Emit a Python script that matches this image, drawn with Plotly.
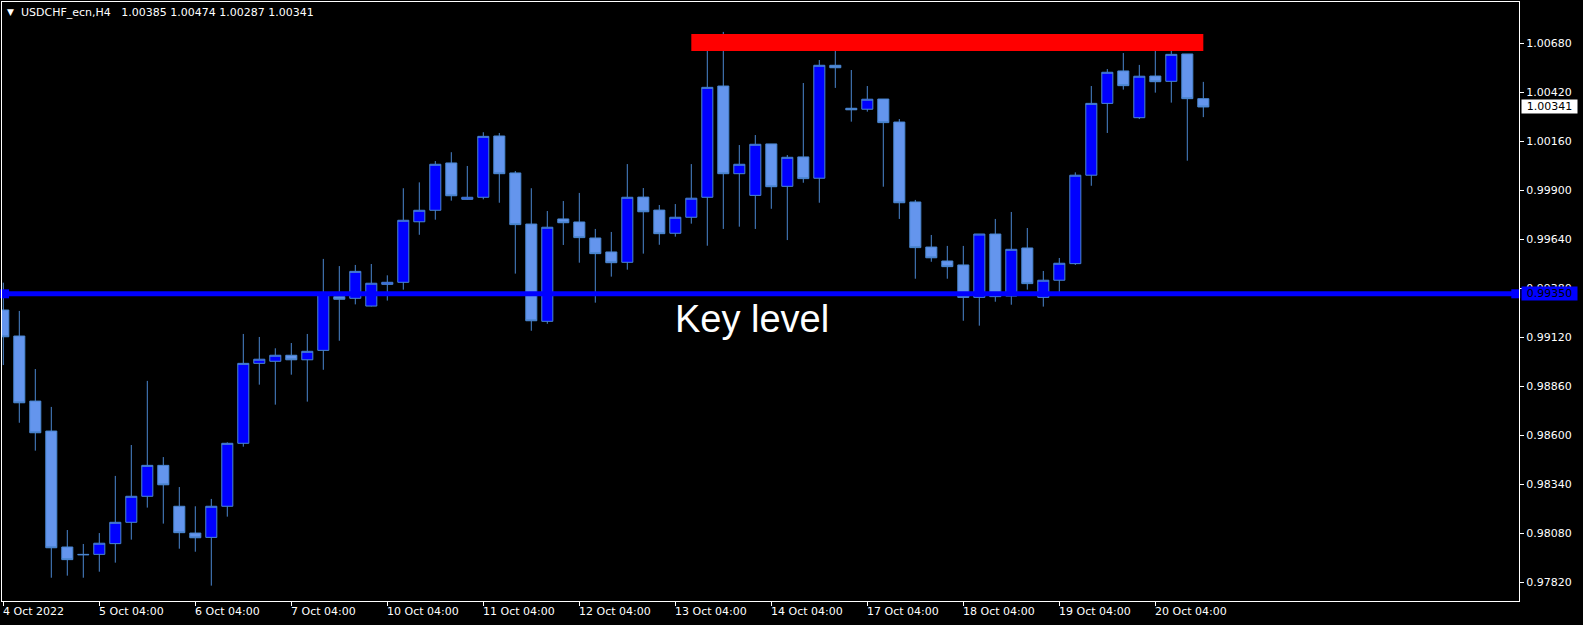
import pandas as pd
import plotly.graph_objects as go

# ---------------- data (USDCHF_ecn, H4) ----------------
opens = [0.99264, 0.99126, 0.98781, 0.98622, 0.98007, 0.97968, 0.97968, 0.98025, 0.98138, 0.98276,
         0.98440, 0.98223, 0.98081, 0.98058, 0.98223, 0.98557, 0.98981, 0.98992, 0.99024, 0.99000,
         0.99050, 0.99335, 0.99326, 0.99285, 0.99400, 0.99411, 0.99732, 0.99793, 1.00044, 0.99851,
         0.99862, 1.00187, 0.99991, 0.99720, 0.99204, 0.99747, 0.99731, 0.99646, 0.99572, 0.99517,
         0.99863, 0.99794, 0.99671, 0.99756, 0.99862, 1.00452, 0.99987, 0.99872, 1.00145, 0.99920,
         1.00076, 0.99963, 1.00562, 1.00334, 1.00329, 1.00383, 1.00261, 0.99837, 0.99598, 0.99524,
         0.99503, 0.99331, 0.99667, 0.99338, 0.99593, 0.99331, 0.99422, 0.99510, 0.99979, 1.00360,
         1.00532, 1.00284, 1.00505, 1.00477, 1.00622, 1.00385]
highs = [0.99409, 0.99259, 0.98951, 0.98750, 0.98097, 0.98023, 0.98081, 0.98384, 0.98548, 0.98888,
         0.98484, 0.98325, 0.98223, 0.98262, 0.98562, 0.99137, 0.99121, 0.99061, 0.99089, 0.99137,
         0.99535, 0.99497, 0.99503, 0.99508, 0.99448, 0.99910, 0.99941, 1.00054, 1.00101, 1.00028,
         1.00207, 1.00203, 1.00001, 0.99910, 0.99789, 0.99842, 0.99885, 0.99694, 0.99678, 1.00038,
         0.99911, 0.99821, 0.99826, 1.00038, 1.00701, 1.00739, 1.00139, 1.00192, 1.00145, 1.00086,
         1.00468, 1.00590, 1.00659, 1.00537, 1.00452, 1.00383, 1.00277, 0.99848, 0.99662, 0.99604,
         0.99604, 0.99667, 0.99747, 0.99784, 0.99699, 0.99471, 0.99540, 0.99994, 1.00452, 1.00542,
         1.00627, 1.00564, 1.00638, 1.00686, 1.00622, 1.00474]
lows = [0.98972, 0.98666, 0.98518, 0.97844, 0.97855, 0.97844, 0.97876, 0.97924, 0.98046, 0.98216,
        0.98131, 0.97998, 0.97982, 0.97802, 0.98168, 0.98539, 0.98868, 0.98762, 0.98921, 0.98778,
        0.98947, 0.99101, 0.99294, 0.99283, 0.99314, 0.99372, 0.99663, 0.99743, 0.99844, 0.99849,
        0.99851, 0.99833, 0.99457, 0.99154, 0.99191, 0.99609, 0.99515, 0.99303, 0.99441, 0.99478,
        0.99563, 0.99610, 0.99653, 0.99722, 0.99605, 0.99694, 0.99706, 0.99694, 0.99801, 0.99635,
        0.99939, 0.99833, 1.00442, 1.00263, 1.00316, 0.99918, 0.99747, 0.99430, 0.99520, 0.99430,
        0.99207, 0.99181, 0.99308, 0.99292, 0.99372, 0.99282, 0.99360, 0.99503, 0.99923, 1.00203,
        1.00433, 1.00277, 1.00417, 1.00364, 1.00056, 1.00287]
closes = [0.99122, 0.98772, 0.98613, 0.98003, 0.97940, 0.97966, 0.98027, 0.98138, 0.98276, 0.98440,
          0.98337, 0.98083, 0.98056, 0.98223, 0.98557, 0.98981, 0.99003, 0.99024, 0.99000, 0.99045,
          0.99354, 0.99321, 0.99469, 0.99406, 0.99411, 0.99740, 0.99793, 1.00037, 0.99870, 0.99862,
          1.00185, 0.99987, 0.99717, 0.99207, 0.99703, 0.99727, 0.99648, 0.99563, 0.99515, 0.99862,
          0.99785, 0.99669, 0.99756, 0.99857, 1.00445, 0.99987, 1.00037, 1.00143, 0.99918, 1.00074,
          0.99961, 1.00562, 1.00549, 1.00326, 1.00382, 1.00258, 0.99833, 0.99595, 0.99541, 0.99494,
          0.99331, 0.99667, 0.99335, 0.99586, 0.99404, 0.99422, 0.99512, 0.99979, 1.00360, 1.00525,
          1.00454, 1.00504, 1.00475, 1.00620, 1.00385, 1.00341]

price_ticks = [0.97820, 0.98080, 0.98340, 0.98600, 0.98860, 0.99120, 0.99380,
               0.99640, 0.99900, 1.00160, 1.00420, 1.00680]
key_level = 0.99350
last_price = 1.00341
zone_low, zone_high = 1.00638, 1.00728
zone_start_bar, zone_end_bar = 43, 75
title_text = "USDCHF_ecn,H4\u00a0\u00a0 1.00385 1.00474 1.00287 1.00341"
key_label = "Key level"

# bar times (H4, weekdays only)
times = [t for t in pd.date_range("2022-10-04 04:00", "2022-10-20 16:00", freq="4h") if t.weekday() < 5]
bars = list(range(len(times)))
tick_bars = [i for i, t in enumerate(times) if t.hour == 4]
tick_labels = []
for k, i in enumerate(tick_bars):
    t = times[i]
    tick_labels.append(f"{t.day} Oct {t.year}" if k == 0 else f"{t.day} Oct 04:00")

# ---------------- style ----------------
WICK = "#4A86D0"
BULL = "#0000FF"
BEAR = "#6495ED"
FONT = "DejaVu Sans"

fig = go.Figure()
fig.add_trace(go.Candlestick(
    x=bars, open=opens, high=highs, low=lows, close=closes,
    increasing=dict(fillcolor=BULL, line=dict(color=WICK, width=1)),
    decreasing=dict(fillcolor=BEAR, line=dict(color=WICK, width=1)),
    whiskerwidth=0, showlegend=False,
    text=[t.strftime("%d %b %H:%M") for t in times], hoverinfo="text+y",
))

x_lo, x_hi = -0.081, 94.73
# anchor squares of the horizontal key level line
fig.add_trace(go.Scatter(
    x=[x_lo + 0.16, x_hi - 0.2], y=[key_level, key_level], mode="markers",
    marker=dict(symbol="square", size=9, color=BULL), cliponaxis=False,
    showlegend=False, hoverinfo="skip",
))

shapes = [
    dict(type="rect", xref="x", yref="y", x0=zone_start_bar, x1=zone_end_bar,
         y0=zone_low, y1=zone_high, fillcolor="#FF0000", line=dict(width=0), layer="above"),
    dict(type="line", xref="paper", yref="y", x0=0, x1=1, y0=key_level, y1=key_level,
         line=dict(color=BULL, width=5), layer="above"),
]

annotations = []
for i, lab in zip(tick_bars, tick_labels):
    annotations.append(dict(x=i, y=0, xref="x", yref="paper", text=lab, showarrow=False,
                            xanchor="left", yanchor="top", xshift=-2, yshift=-2,
                            font=dict(family=FONT, size=11, color="white")))
annotations.append(dict(x=0, y=1, xref="paper", yref="paper", text="\u25BC", showarrow=False,
                        xanchor="left", yanchor="top", xshift=3, yshift=-3,
                        font=dict(family=FONT, size=9, color="white")))
annotations.append(dict(x=0, y=1, xref="paper", yref="paper", text=title_text, showarrow=False,
                        xanchor="left", yanchor="top", xshift=17, yshift=-2,
                        font=dict(family=FONT, size=11, color="white")))
annotations.append(dict(x=41.85, y=0.99214, xref="x", yref="y", text=key_label, showarrow=False,
                        xanchor="left", yanchor="middle",
                        font=dict(family="Liberation Sans, Arial", size=38, color="white")))
annotations.append(dict(x=1, y=last_price, xref="paper", yref="y", text=f"{last_price:.5f}",
                        showarrow=False, xanchor="left", yanchor="middle", xshift=2,
                        bgcolor="white", borderpad=0,
                        font=dict(family=FONT, size=11, color="black"), width=55))
annotations.append(dict(x=1, y=key_level, xref="paper", yref="y", text=f"{key_level:.5f}",
                        showarrow=False, xanchor="left", yanchor="middle", xshift=2,
                        bgcolor=BULL, borderpad=0,
                        font=dict(family=FONT, size=11, color="black"), width=55))

fig.update_layout(
    width=1583, height=625,
    margin=dict(l=2, r=64, t=2, b=24),
    paper_bgcolor="black", plot_bgcolor="black",
    boxgap=0.31, boxgroupgap=0,
    shapes=shapes, annotations=annotations,
    hovermode="closest",
    xaxis=dict(range=[x_lo, x_hi], showgrid=False, zeroline=False,
               showline=True, mirror=True, linecolor="white", linewidth=1,
               ticks="outside", tickcolor="white", ticklen=4, tickwidth=1,
               tickvals=tick_bars, showticklabels=False,
               rangeslider=dict(visible=False), fixedrange=True),
    yaxis=dict(range=[0.977206, 1.008977], side="right", showgrid=False, zeroline=False,
               showline=True, mirror=True, linecolor="white", linewidth=1,
               ticks="outside", tickcolor="white", ticklen=4, tickwidth=1,
               tickvals=price_ticks, ticktext=[f"{v:.5f}" for v in price_ticks],
               tickfont=dict(family=FONT, size=11, color="white"), fixedrange=True),
)

fig.write_html("out.html", config={"displayModeBar": False},
               post_script="document.body.style.margin='0';document.body.style.background='black';")
